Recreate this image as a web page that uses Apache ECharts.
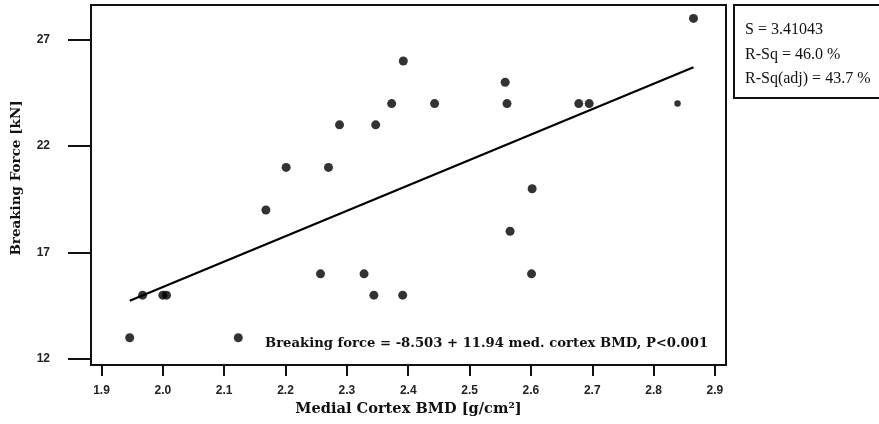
<!DOCTYPE html>
<html>
<head>
<meta charset="utf-8">
<script src="https://cdn.jsdelivr.net/npm/echarts@6/dist/echarts.min.js"></script>
<style>
html,body{margin:0;padding:0;background:#fff;}
#chart{width:879px;height:424px;}
</style>
</head>
<body>
<div id="chart"></div>
<script>
// Medial cortex BMD (g/cm²) and breaking force (kN)
const bmd = [1.946, 1.967, 2.000, 2.006, 2.123, 2.168, 2.201, 2.257, 2.270, 2.288, 2.328, 2.344, 2.347, 2.373, 2.391, 2.392, 2.443, 2.558, 2.561, 2.566, 2.601, 2.602, 2.678, 2.695, 2.865];
const force = [13, 15, 15, 15, 13, 19, 21, 16, 21, 23, 16, 15, 23, 24, 15, 26, 24, 25, 24, 18, 16, 20, 24, 24, 28];
// one point drawn smaller in the original
const smallBmd = [2.839];
const smallForce = [24];
// fitted regression
const intercept = -8.503;
const slope = 11.94;
const xTicks = [1.9, 2.0, 2.1, 2.2, 2.3, 2.4, 2.5, 2.6, 2.7, 2.8, 2.9];
const yTicks = [12, 17, 22, 27];
const statsLines = ['S = 3.41043', 'R-Sq = 46.0 %', 'R-Sq(adj) = 43.7 %'];
const equationText = 'Breaking force = -8.503 + 11.94 med. cortex BMD, P<0.001';
const xName = 'Medial Cortex BMD [g/cm²]';
const yName = 'Breaking Force [kN]';

const pts = bmd.map((x, i) => [x, force[i]]);
const smallPts = smallBmd.map((x, i) => [x, smallForce[i]]);
const allX = bmd.concat(smallBmd);
const xLo = Math.min(...allX), xHi = Math.max(...allX);
const fitLine = [[xLo, intercept + slope * xLo], [xHi, intercept + slope * xHi]];

const chart = echarts.init(document.getElementById('chart'), null, {renderer: 'canvas'});
const serif = '"DejaVu Serif", "Liberation Serif", serif';
chart.setOption({
  animation: false,
  backgroundColor: '#fff',
  grid: {left: 91, top: 5, right: 153, bottom: 59, show: true, borderColor: '#111', borderWidth: 2, backgroundColor: 'transparent'},
  xAxis: {
    type: 'value', min: 1.8829, max: 2.918,
    splitLine: {show: false},
    axisLine: {show: false},
    axisTick: {show: true, customValues: xTicks, length: 11, lineStyle: {color: '#111', width: 2}},
    axisLabel: {customValues: xTicks, formatter: v => v.toFixed(1), margin: 20, color: '#222', fontFamily: '"Liberation Sans", Arial, sans-serif', fontWeight: 'bold', fontSize: 12},
    name: xName, nameLocation: 'middle', nameGap: 37,
    nameTextStyle: {fontFamily: serif, fontWeight: 'bold', fontSize: 14.6, color: '#111'}
  },
  yAxis: {
    type: 'value', min: 11.718, max: 28.63,
    splitLine: {show: false},
    axisLine: {show: false},
    axisTick: {show: true, customValues: yTicks, length: 23, lineStyle: {color: '#111', width: 2}},
    axisLabel: {customValues: yTicks, margin: 41, color: '#222', fontFamily: '"Liberation Sans", Arial, sans-serif', fontWeight: 'bold', fontSize: 12},
    name: yName, nameLocation: 'middle', nameGap: 68,
    nameTextStyle: {fontFamily: serif, fontWeight: 'bold', fontSize: 13.5, color: '#111', padding: [0, 0, 0, 14]}
  },
  series: [
    {type: 'line', data: fitLine, symbol: 'none', lineStyle: {color: '#000', width: 2.2}, z: 2},
    {type: 'scatter', data: pts, symbol: 'circle', symbolSize: 9, itemStyle: {color: '#000'}, z: 3},
    {type: 'scatter', data: smallPts, symbol: 'circle', symbolSize: 6.5, itemStyle: {color: '#000'}, z: 3}
  ],
  graphic: [
    {type: 'text', left: 265, top: 337, style: {text: equationText, font: 'bold 13.2px ' + serif, fill: '#111'}},
    {type: 'rect', shape: {x: 734, y: 5, width: 150, height: 93}, style: {fill: '#fff', stroke: '#111', lineWidth: 2}},
    {type: 'text', left: 745, top: 18, style: {text: statsLines.join('\n'), font: '16px "Liberation Serif", "Times New Roman", serif', lineHeight: 24.5, fill: '#111'}}
  ]
});
</script>
</body>
</html>
